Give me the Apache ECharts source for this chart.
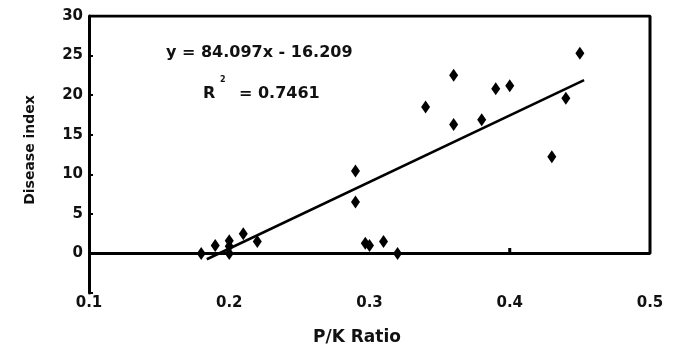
<!DOCTYPE html>
<html>
<head>
<meta charset="UTF-8">
<title>P/K Ratio vs Disease index</title>
<script src="https://cdn.jsdelivr.net/npm/echarts@6/dist/echarts.min.js"></script>
<style>
body{margin:0;background:#fff}
#chart{width:682px;height:350px}
</style>
</head>
<body>
<div id="chart"></div>
<script type="text/javascript">
// data
var pkRatio=[0.18,0.19,0.20,0.20,0.20,0.21,0.22,0.29,0.29,0.297,0.30,0.31,0.32,0.34,0.36,0.36,0.38,0.39,0.40,0.43,0.44,0.45];
var diseaseIndex=[0,1.0,1.6,0.9,0,2.5,1.5,10.4,6.5,1.3,1.0,1.5,0,18.5,22.5,16.3,16.9,20.8,21.2,12.2,19.6,25.3];
var xTicks=[0.1,0.2,0.3,0.4,0.5];
var yTicks=[0,5,10,15,20,25,30];
var slope=84.097, intercept=-16.209, r2=0.7461;

var xMin=0.1, xMax=0.5, yMin=-5, yMax=30;
var font='DejaVu Sans';

var points=[];
for(var i=0;i<pkRatio.length;i++){
	points.push([pkRatio[i],diseaseIndex[i]]);
}
// trendline, drawn a little past the data like the original
var lo=Math.min.apply(null,pkRatio)+0.004, hi=Math.max.apply(null,pkRatio)+0.003;
var trend=[[lo,slope*lo+intercept],[hi,slope*hi+intercept]];

var mychart=echarts.init(document.getElementById('chart'));
var option={
	animation:false,
	grid:{left:89,right:32,top:16,bottom:57},
	xAxis:{
		type:'value',min:xMin,max:xMax,interval:0.1,
		axisLine:{show:false},axisTick:{show:false},splitLine:{show:false},
		axisLabel:{margin:3,color:'#111',fontFamily:font,fontWeight:'bold',fontSize:15,
			formatter:function(v){return v.toFixed(1);}}
	},
	yAxis:{
		type:'value',min:yMin,max:yMax,interval:5,
		axisLine:{show:true,lineStyle:{color:'#000',width:3}},
		axisTick:{show:true,inside:true,length:4,lineStyle:{color:'#000',width:2}},
		splitLine:{show:false},
		axisLabel:{margin:6,color:'#111',fontFamily:font,fontWeight:'bold',fontSize:15,
			formatter:function(v){return yTicks.indexOf(v)<0?'':String(v);}}
	},
	graphic:[
		{type:'text',style:{x:166,y:53,text:'y = '+slope+'x - '+Math.abs(intercept),font:'bold 16px "DejaVu Sans"',fill:'#111',verticalAlign:'middle'}},
		{type:'text',style:{x:203,y:94,text:'R',font:'bold 16px "DejaVu Sans"',fill:'#111',verticalAlign:'middle'}},
		{type:'text',style:{x:220,y:80,text:'2',font:'bold 8px "DejaVu Sans"',fill:'#111',verticalAlign:'middle'}},
		{type:'text',style:{x:239,y:94,text:'= '+r2,font:'bold 16px "DejaVu Sans"',fill:'#111',verticalAlign:'middle'}},
		{type:'text',style:{x:357,y:338,text:'P/K Ratio',font:'bold 17px "DejaVu Sans"',fill:'#111',align:'center',verticalAlign:'middle'}},
		{type:'text',rotation:Math.PI/2,x:30,y:150,style:{x:0,y:0,text:'Disease index',font:'bold 14px "DejaVu Sans"',fill:'#111',align:'center',verticalAlign:'middle'}}
	],
	series:[
		{ // frame: zero line, right side, top
			type:'line',silent:true,symbol:'none',
			lineStyle:{color:'#000',width:3},
			data:[[xMin,0],[xMax,0],[xMax,yMax],[xMin,yMax]]
		},
		{
			type:'line',silent:true,symbol:'none',
			lineStyle:{color:'#000',width:3},
			data:[[0.4,0],[0.4,0.7]]
		},
		{
			type:'line',silent:true,symbol:'none',
			lineStyle:{color:'#000',width:2.5},
			data:trend
		},
		{
			type:'scatter',symbol:'diamond',symbolSize:[9,13],
			itemStyle:{color:'#000',opacity:1},
			data:points
		}
	]
};
mychart.setOption(option);
</script>
</body>
</html>
